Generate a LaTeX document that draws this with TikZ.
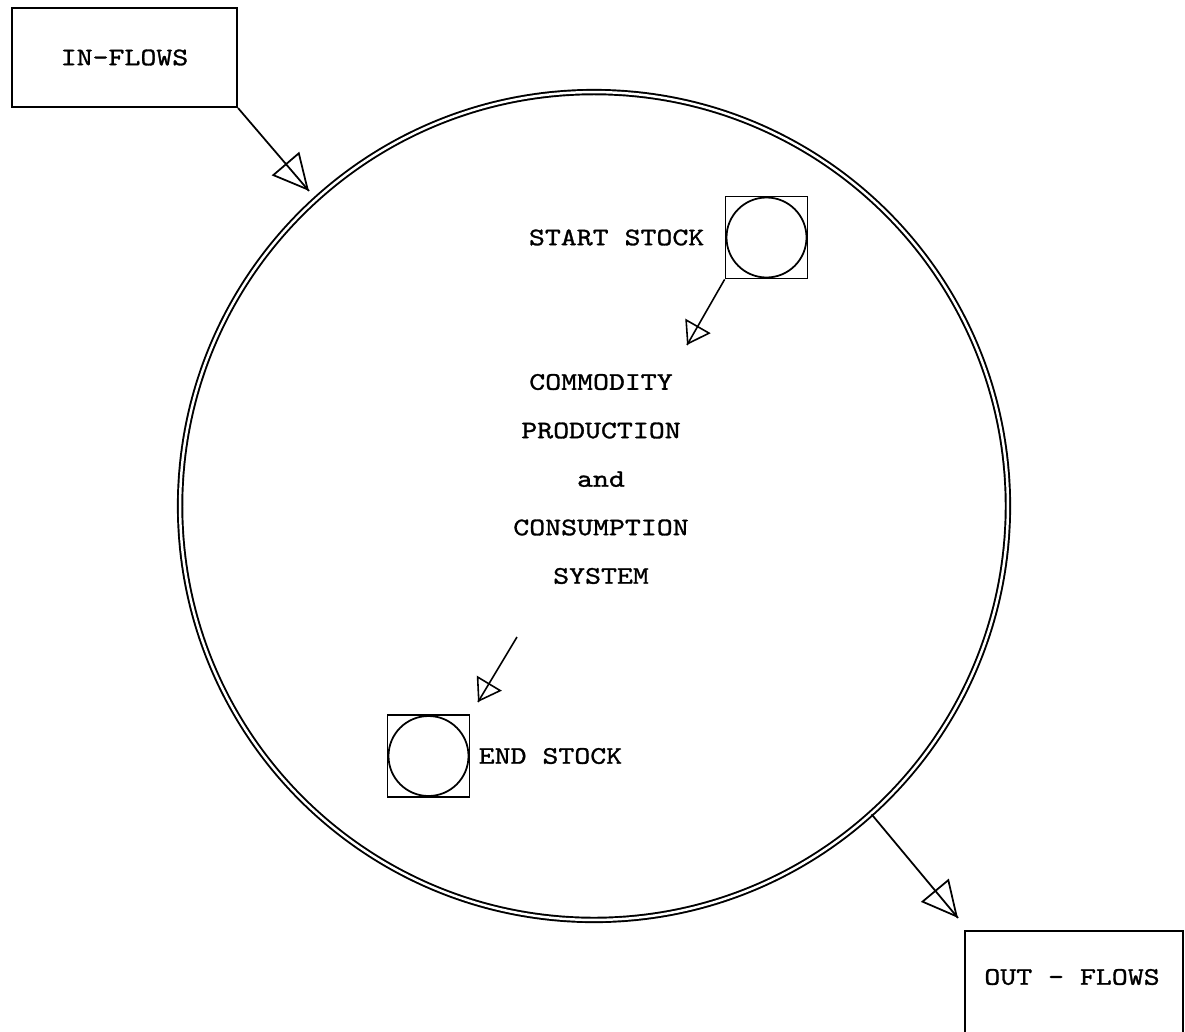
\documentclass[tikz,border=0pt]{standalone}
\usepackage{fontspec}
\newfontfamily\typefont[FakeStretch=1.2,FakeBold=1.2]{lmmono10-regular.otf}
\usetikzlibrary{positioning,arrows.meta,decorations.markings}

\begin{document}
\begin{tikzpicture}[x=0.02cm, y=-0.02cm,
  flowbox/.style={draw, line width=1.2pt, minimum width=4.5cm, minimum height=1.98cm, inner sep=0pt, font={\typefont\fontsize{14.4pt}{17pt}\selectfont}},
  txt/.style={inner sep=0pt, align=center, font={\typefont\fontsize{14.4pt}{27.6pt}\selectfont}},
  stock/.style={draw, line width=1pt, minimum size=1.64cm, inner sep=0pt, path picture={\draw[line width=1pt] (path picture bounding box.center) circle (0.8cm);}},
  bigflow/.style={draw, line width=1pt, postaction={decorate}, decoration={markings, mark=at position 1 with {\arrow{Triangle[open, length=0.72cm, width=0.72cm]}}}},
  smallflow/.style={draw, line width=0.9pt, postaction={decorate}, decoration={markings, mark=at position 1 with {\arrow{Triangle[open, length=0.44cm, width=0.58cm]}}}},
  system/.style={circle, draw, double, line width=1.1pt, double distance=1.4pt, minimum size=16.56cm, inner sep=0pt}
]
  \useasboundingbox (0,0) rectangle (1185,1031);

  \node[system] (sys) at (594,506) {};
  \node[flowbox] (inflows) at (124.5,57.5) {IN-FLOWS};
  \node[flowbox, anchor=north, minimum width=4.36cm, minimum height=2.6cm] (outflows) at (1074,930) {};
  \node[txt] (outlabel) at (1072,977) {OUT - FLOWS};

  \node[stock] (startstock) at (766.5,237.5) {};
  \node[txt, left=0.4cm of startstock] (startlabel) {START STOCK};
  \node[txt] (systext) at (601,479) {COMMODITY\\PRODUCTION\\and\\CONSUMPTION\\SYSTEM};
  \node[stock] (endstock) at (428.5,756) {};
  \node[txt, right=0.16cm of endstock] (endlabel) {END STOCK};

  \coordinate (intip) at (309,191);
  \coordinate (startflow) at (687,345);
  \coordinate (endfrom) at (517,637);
  \coordinate (endflow) at (478,702);
  \coordinate (outtip) at (958,918);

  \draw[bigflow] (inflows.south east) -- (intip);
  \draw[smallflow] (startstock.south west) -- (startflow);
  \draw[smallflow] (endfrom) -- (endflow);
  \draw[bigflow] (sys.-48.4) -- (outtip);
\end{tikzpicture}
\end{document}
